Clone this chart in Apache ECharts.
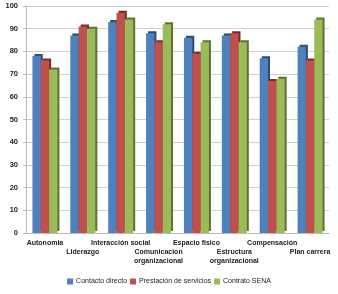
<!DOCTYPE html>
<html>
<head>
<meta charset="utf-8">
<script src="https://cdn.jsdelivr.net/npm/echarts@6/dist/echarts.min.js"></script>
<style>
  html, body { margin: 0; padding: 0; background: #fff; }
  #chart { width: 338px; height: 294px; }
</style>
</head>
<body>
<div id="chart"></div>
<script>
const categories = [
  'Autonomia',
  'Liderazgo',
  'Interacción social',
  'Comunicacion\norganizacional',
  'Espacio fisico',
  'Estructura\norganizacional',
  'Compensación',
  'Plan carrera'
]
const contactoDirecto = [78, 87, 93, 88, 86, 87, 77, 82]
const prestacionServicios = [76, 91, 97, 84, 79, 88, 67, 76]
const contratoSena = [72, 90, 94, 92, 84, 84, 68, 94]
const yTicks = [0, 10, 20, 30, 40, 50, 60, 70, 80, 90, 100]

const colors = ['#4F81BD', '#C0504D', '#9BBB59']
const sideColors = ['#2c4d75', '#7a2c2a', '#5c7430']

const chart = echarts.init(document.getElementById('chart'))

function barSeries(name, data, idx) {
  return {
    name,
    type: 'bar',
    data,
    barGap: '0%',
    barCategoryGap: '34%',
    itemStyle: {
      color: colors[idx],
      shadowColor: sideColors[idx],
      shadowBlur: 0,
      shadowOffsetX: 2,
      shadowOffsetY: -2
    }
  }
}

chart.setOption({
  animation: false,
  textStyle: { fontFamily: 'Liberation Sans, Arial, sans-serif' },
  grid: { left: 26, right: 9, top: 6, bottom: 61 },
  legend: {
    bottom: 4,
    left: 'center',
    itemWidth: 6,
    itemHeight: 6,
    itemGap: 3,
    icon: 'rect',
    textStyle: { fontSize: 7, color: '#222', padding: [0, 0, 0, -2] },
    data: ['Contacto directo', 'Prestación de servicios', 'Contrato SENA']
  },
  xAxis: {
    type: 'category',
    data: categories,
    axisTick: { show: false },
    axisLine: { lineStyle: { color: '#bbb' } },
    axisLabel: {
      interval: 0,
      margin: 6,
      fontSize: 7,
      fontWeight: 'bold',
      color: '#222',
      lineHeight: 9,
      formatter: (v, i) => (i % 2 === 1 ? '\n' + v : v)
    }
  },
  yAxis: {
    type: 'value',
    min: yTicks[0],
    max: yTicks[yTicks.length - 1],
    interval: 10,
    axisLine: { show: true, lineStyle: { color: '#bbb' } },
    axisTick: { show: true, length: 3, lineStyle: { color: '#bbb' } },
    axisLabel: { fontSize: 7.5, fontWeight: 'bold', color: '#222', margin: 8 },
    splitLine: { lineStyle: { color: '#d0d0d0' } }
  },
  series: [
    barSeries('Contacto directo', contactoDirecto, 0),
    barSeries('Prestación de servicios', prestacionServicios, 1),
    barSeries('Contrato SENA', contratoSena, 2)
  ]
})
</script>
</body>
</html>
